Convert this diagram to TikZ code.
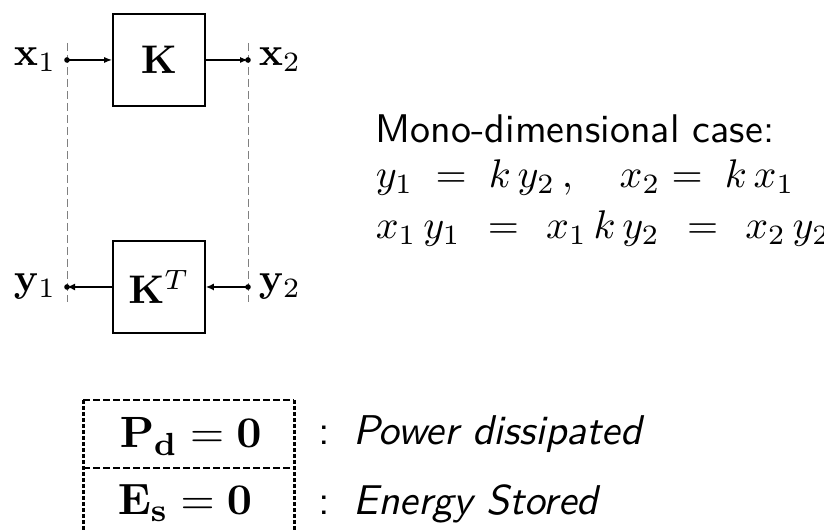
\documentclass[tikz,border=0pt]{standalone}
\usepackage{amsmath,amssymb}
\usepackage{tikz}
\usetikzlibrary{arrows.meta,positioning,calc}

\begin{document}
\begin{tikzpicture}[
x=0.25pt,y=-0.25pt,
font=\fontsize{10}{12}\selectfont,
blk/.style={draw,line width=0.4pt,minimum width=23pt,minimum height=23pt,inner sep=0pt},
lbl/.style={inner sep=0.5pt},
sig/.style={line width=0.35pt,-{Latex[length=2pt,width=1.5pt]}},
sigb/.style={line width=0.6pt,-{Latex[length=2pt,width=1.75pt]}},
guide/.style={gray,line width=0.25pt,dash pattern=on 2pt off 1pt},
cellline/.style={line width=0.4pt,dash pattern=on 1.75pt off 0.75pt},
cellside/.style={line width=0.75pt,dash pattern=on 1pt off 0.5pt},
note/.style={anchor=base west,inner sep=0pt,font=\fontsize{10}{12}\selectfont\sffamily},
cell/.style={anchor=base west,inner sep=0pt,font=\fontsize{11}{13}\selectfont}
]
\useasboundingbox (0,0) rectangle (824,531);

% block diagram
\node[blk] (K) at (159,60) {$\mathbf{K}$};
\node[blk] (KT) at (159,287) {$\mathbf{K}^T$};
\coordinate (x1) at (67,60);
\coordinate (x2) at (248,60);
\coordinate (y1) at (67,287);
\coordinate (y2) at (248,287);
\draw[guide] ([yshift=4.25pt]x1) -- ([yshift=-3.75pt]y1);
\draw[guide] ([yshift=4.25pt]x2) -- ([yshift=-3.75pt]y2);
\draw[sig] (x1) -- (K.west);
\draw[sig] (K.east) -- (x2);
\draw[sigb] (KT.west) -- (y1);
\draw[sigb] (y2) -- (KT.east);
\foreach \p in {x1,x2,y1,y2} \fill (\p) circle (0.7pt);
\node[lbl,left=2pt of x1] (lx1) {$\mathbf{x}_1$};
\node[lbl,right=2pt of x2] (lx2) {$\mathbf{x}_2$};
\node[lbl,left=2pt of y1] (ly1) {$\mathbf{y}_1$};
\node[lbl,right=2pt of y2] (ly2) {$\mathbf{y}_2$};

% scalar case
\node[note] (mono) at (375,143) {Mono-dimensional case:};
\node[note] (eqa) at (375,188) {$y_1 \;=\; k\,y_2\,,\quad x_2 =\; k\,x_1$};
\node[note] (eqb) at (375,239) {$x_1\,y_1 \hspace{0.4em}=\hspace{0.4em} x_1\,k\,y_2 \hspace{0.4em}=\hspace{0.4em} x_2\,y_2$};

% properties table
\coordinate (tl) at (83,400);
\coordinate (tr) at (294,400);
\coordinate (ml) at (83,468);
\coordinate (mr) at (294,468);
\coordinate (bl) at (83,535);
\coordinate (br) at (294,535);
\draw[cellline] (tl) -- (tr);
\draw[cellline] (ml) -- (mr);
\draw[cellside] (tl) -- (bl);
\draw[cellside] (tr) -- (br);
\node[cell] (pd) at (119,448) {$\mathbf{P_d = 0}$};
\node[cell] (es) at (117,515) {$\mathbf{E_s = 0}$};
\node[note,font=\fontsize{10.4}{12}\selectfont\sffamily] (npd) at (318,445) {:\hspace{0.55em}\itshape Power dissipated};
\node[note,font=\fontsize{10.4}{12}\selectfont\sffamily] (nes) at (318,515) {:\hspace{0.55em}\itshape Energy Stored};
\end{tikzpicture}
\end{document}
